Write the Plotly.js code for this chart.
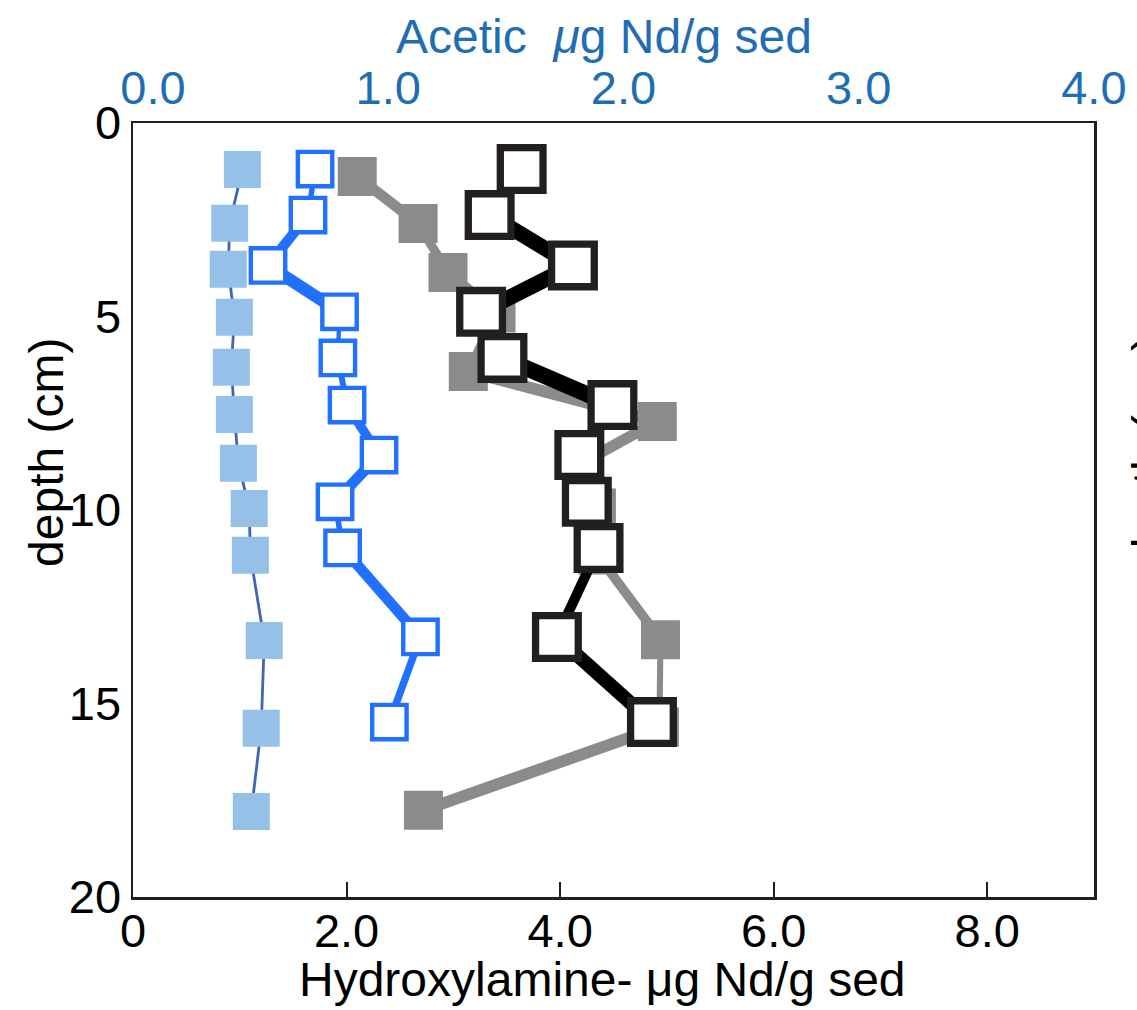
<!DOCTYPE html>
<html>
<head>
<meta charset="utf-8">
<script src="https://cdn.plot.ly/plotly-3.0.1.min.js"></script>
<style>html,body{margin:0;padding:0;background:#fff;}#chart{width:1137px;height:1010px;}</style>
</head>
<body>
<div id="chart"></div>
<script>
// ---- data ----
// Acetic extraction (top axis, µg Nd/g sed)
const aceticFilledDepth = [1.20, 2.59, 3.78, 5.02, 6.31, 7.53, 8.79, 9.96, 11.17, 13.37, 15.64, 17.79];
const aceticFilledValue = [0.380, 0.326, 0.320, 0.346, 0.333, 0.346, 0.363, 0.409, 0.414, 0.473, 0.460, 0.418];
const openDepth = [1.19, 2.38, 3.68, 4.88, 6.07, 7.29, 8.58, 9.79, 10.98, 13.28, 15.48];
const aceticOpenValue = [0.689, 0.659, 0.489, 0.793, 0.786, 0.825, 0.961, 0.774, 0.806, 1.137, 1.005];
// Hydroxylamine extraction (bottom axis, µg Nd/g sed)
const hydroxFilledDepth = [1.38, 2.60, 3.86, 4.91, 6.42, 7.71, 8.79, 9.95, 11.16, 13.35, 15.61, 17.76];
const hydroxFilledValue = [2.10, 2.67, 2.95, 3.40, 3.14, 4.91, 4.20, 4.34, 4.35, 4.94, 4.93, 2.72];
const hydroxOpenValue = [3.64, 3.34, 4.12, 3.26, 3.46, 4.49, 4.18, 4.25, 4.36, 3.97, 4.86];

// axis ticks / labels
const bottomTickVals = [0, 2, 4, 6, 8];
const bottomTickText = ['0', '2.0', '4.0', '6.0', '8.0'];
const topTickVals = [0, 1, 2, 3, 4];
const topTickText = ['0.0', '1.0', '2.0', '3.0', '4.0'];
const topMinorTickVals = [1, 2, 3, 4, 5, 6, 7];
const depthTickVals = [0, 5, 10, 15, 20];
const depthTickText = ['0', '5', '10', '15', '20'];

// titles
const bottomTitle = 'Hydroxylamine- \u03bcg Nd/g sed';
const topTitle = 'Acetic  <i>\u03bc</i>g Nd/g sed';
const depthTitle = 'depth (cm)';

// ---- layout geometry ----
const W = 1137, H = 1010;
const M = {l: 133, r: 43, t: 123, b: 113};
const xRange = [0, 9];
const x2Range = [-0.085, 4.0005];
const x3Range = [-0.033, 7.975];
const yRange = [20, 0];
const plotW = W - M.l - M.r, plotH = H - M.t - M.b;
const FONT = "'Liberation Sans', Arial, Helvetica, sans-serif";
const BLUE_TXT = '#1f6db4';
const TICK_SIZE = 47, TITLE_SIZE = 48;

function pxPer(range, len) { return len / Math.abs(range[1] - range[0]); }

// calligraphic-pen look: thick when moving sideways, thin when vertical
function segTraces(xs, ys, xaxis, xr, color, thin, thick) {
  const px = pxPer(xr, plotW), py = pxPer(yRange, plotH);
  const out = [];
  for (let i = 0; i < xs.length - 1; i++) {
    const dx = (xs[i + 1] - xs[i]) * px, dy = (ys[i + 1] - ys[i]) * py;
    const s = Math.abs(dx) / Math.sqrt(dx * dx + dy * dy);
    out.push({
      x: [xs[i], xs[i + 1]], y: [ys[i], ys[i + 1]],
      xaxis: xaxis, yaxis: 'y', type: 'scatter', mode: 'lines',
      line: {color: color, width: thin + (thick - thin) * s},
      hoverinfo: 'skip', showlegend: false
    });
  }
  return out;
}

const traces = [];
// light blue filled (acetic)
traces.push({x: aceticFilledValue, y: aceticFilledDepth, xaxis: 'x2', yaxis: 'y', type: 'scatter', mode: 'lines',
  line: {color: '#3f66b0', width: 2.8}, hoverinfo: 'skip', showlegend: false});
traces.push({x: aceticFilledValue, y: aceticFilledDepth, xaxis: 'x2', yaxis: 'y', type: 'scatter', mode: 'markers',
  marker: {symbol: 'square', size: 37, color: '#95c1e8', line: {width: 0}}, hoverinfo: 'skip', showlegend: false});
// blue open (acetic)
segTraces(aceticOpenValue, openDepth, 'x2', x2Range, '#2170ff', 4, 14).forEach(t => traces.push(t));
traces.push({x: aceticOpenValue, y: openDepth, xaxis: 'x2', yaxis: 'y', type: 'scatter', mode: 'markers',
  marker: {symbol: 'square', size: 34.4, color: '#ffffff', line: {width: 4.4, color: '#2170ff'}}, hoverinfo: 'skip', showlegend: false});
// gray filled (hydroxylamine)
segTraces(hydroxFilledValue, hydroxFilledDepth, 'x', xRange, '#8a8b8d', 6, 12).forEach(t => traces.push(t));
traces.push({x: hydroxFilledValue, y: hydroxFilledDepth, xaxis: 'x', yaxis: 'y', type: 'scatter', mode: 'markers',
  marker: {symbol: 'square', size: 39, color: '#8a8b8d', line: {width: 0}}, hoverinfo: 'skip', showlegend: false});
// black open (hydroxylamine)
segTraces(hydroxOpenValue, openDepth, 'x', xRange, '#000000', 5, 17).forEach(t => traces.push(t));
traces.push({x: hydroxOpenValue, y: openDepth, xaxis: 'x', yaxis: 'y', type: 'scatter', mode: 'markers',
  marker: {symbol: 'square', size: 42.7, color: '#ffffff', line: {width: 7.3, color: '#231f20'}}, hoverinfo: 'skip', showlegend: false});

const layout = {
  width: W, height: H,
  margin: M,
  paper_bgcolor: '#ffffff', plot_bgcolor: '#ffffff',
  showlegend: false, hovermode: false,
  font: {family: FONT, size: TICK_SIZE, color: '#000000'},
  xaxis: {
    range: xRange, tickmode: 'array', tickvals: bottomTickVals, ticktext: bottomTickText,
    ticks: 'inside', ticklen: 15, tickwidth: 2, tickcolor: '#231f20',
    showline: true, mirror: true, linewidth: 2.5, linecolor: '#231f20',
    showgrid: false, zeroline: false, ticklabelstandoff: -9,
    tickfont: {family: FONT, size: TICK_SIZE, color: '#000000'}
  },
  xaxis2: {
    overlaying: 'x', side: 'top', anchor: 'y', range: x2Range,
    tickmode: 'array', tickvals: topTickVals, ticktext: topTickText,
    ticks: '', showline: false, showgrid: false, zeroline: false, ticklabelstandoff: 9,
    tickfont: {family: FONT, size: TICK_SIZE, color: BLUE_TXT}
  },
  xaxis3: {
    overlaying: 'x', side: 'top', anchor: 'y', range: x3Range,
    tickmode: 'array', tickvals: topMinorTickVals, showticklabels: false,
    ticks: 'inside', ticklen: 12, tickwidth: 2, tickcolor: '#4a78c2',
    showline: false, showgrid: false, zeroline: false
  },
  yaxis: {
    range: yRange, tickmode: 'array', tickvals: depthTickVals, ticktext: depthTickText,
    ticks: '', showline: true, mirror: true, linewidth: 2.5, linecolor: '#231f20',
    showgrid: false, zeroline: false,
    tickfont: {family: FONT, size: TICK_SIZE, color: '#000000'}
  },
  annotations: [
    {xref: 'paper', yref: 'paper', x: 0.4885, y: -0.106, xanchor: 'center', yanchor: 'middle',
     text: bottomTitle, showarrow: false, font: {family: FONT, size: TITLE_SIZE, color: '#000000'}},
    {xref: 'paper', yref: 'paper', x: 0.490, y: 1.112, xanchor: 'center', yanchor: 'middle',
     text: topTitle, showarrow: false, font: {family: FONT, size: TITLE_SIZE, color: BLUE_TXT}},
    {xref: 'paper', yref: 'paper', x: -0.0895, y: 0.575, xanchor: 'center', yanchor: 'middle',
     text: depthTitle, textangle: -90, showarrow: false, font: {family: FONT, size: TITLE_SIZE, color: '#000000'}},
    {xref: 'paper', yref: 'paper', x: 1.058, y: 0.578, xanchor: 'center', yanchor: 'middle',
     text: depthTitle, textangle: -90, showarrow: false, font: {family: FONT, size: TITLE_SIZE, color: '#000000'}}
  ]
};

Plotly.newPlot('chart', traces, layout, {displayModeBar: false, staticPlot: true});
</script>
</body>
</html>
